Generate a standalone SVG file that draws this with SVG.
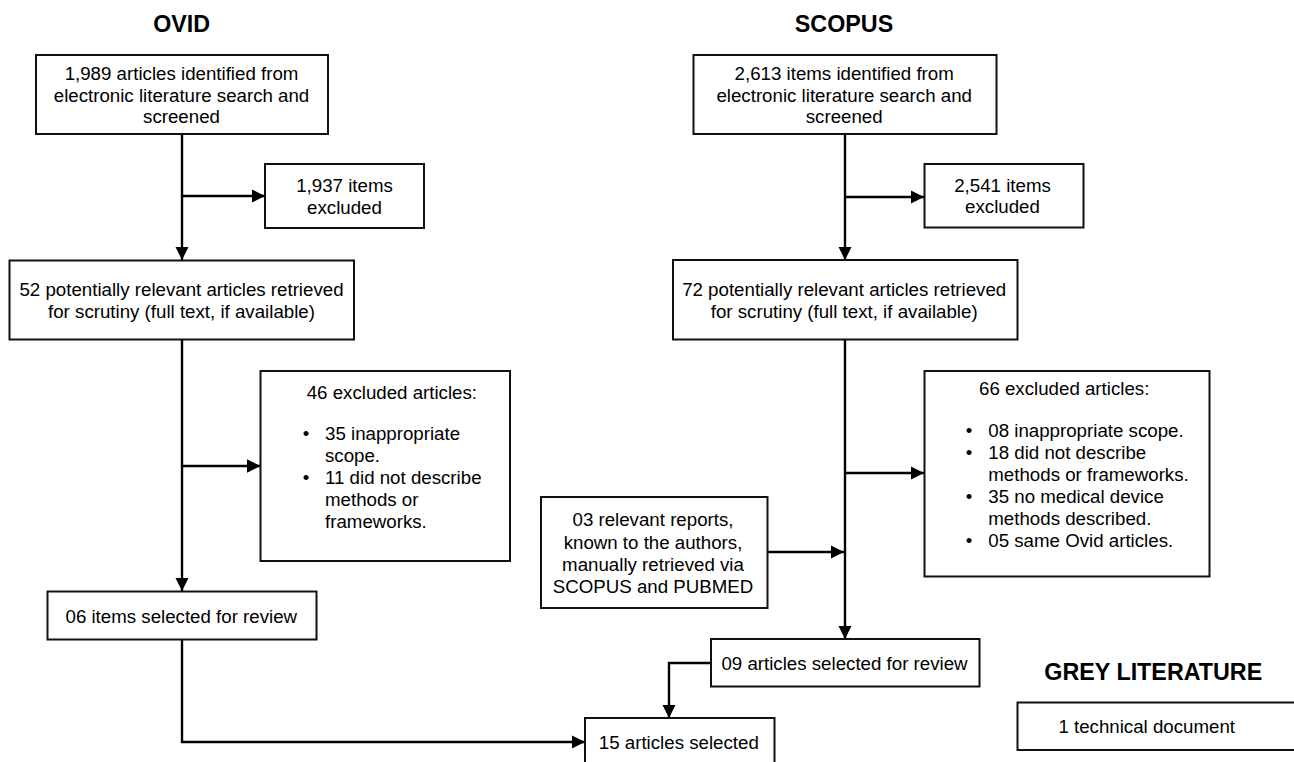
<svg xmlns="http://www.w3.org/2000/svg" width="1294" height="762" viewBox="0 0 1294 762">
<style>
  .box{fill:#fff;stroke:#111;stroke-width:2}
  .t{font-family:"Liberation Sans",Arial,sans-serif;font-size:18.7px;fill:#000}
  .c{text-anchor:middle}
  .h{font-family:"Liberation Sans",Arial,sans-serif;font-size:23.3px;font-weight:bold;fill:#000;text-anchor:middle}
  .ln{fill:none;stroke:#000;stroke-width:2.4}
  .ar{marker-end:url(#arr)}
</style>
<defs>
  <marker id="arr" viewBox="0 0 13.5 13.5" refX="13.5" refY="6.75" markerWidth="13.5" markerHeight="13.5" markerUnits="userSpaceOnUse" orient="auto">
    <path d="M0,0 L13.5,6.75 L0,13.5 z" fill="#000"/>
  </marker>
</defs>
<rect width="1294" height="762" fill="#fff"/>

<g id="titles">
  <text class="h" x="181.7" y="32.3">OVID</text>
  <text class="h" x="844" y="32.3">SCOPUS</text>
  <text class="h" x="1153.3" y="680">GREY LITERATURE</text>
</g>

<g id="connectors">
  <path class="ln ar" d="M182,134 V260"/>
  <path class="ln ar" d="M182,196 H265"/>
  <path class="ln ar" d="M182,340 V591"/>
  <path class="ln ar" d="M182,466 H260.5"/>
  <path class="ln ar" d="M182,639.5 V742 H585"/>
  <path class="ln ar" d="M845,134 V260"/>
  <path class="ln ar" d="M845,197 H924"/>
  <path class="ln ar" d="M845,339.5 V639"/>
  <path class="ln ar" d="M845,473 H924"/>
  <path class="ln ar" d="M767.5,552 H844"/>
  <path class="ln ar" d="M711,663 H669 V718"/>
</g>

<g id="ovid-identified">
  <rect class="box" x="36" y="55" width="292" height="79"/>
  <text class="t c" x="181.5" y="80">1,989 articles identified from</text>
  <text class="t c" x="181.5" y="101.7">electronic literature search and</text>
  <text class="t c" x="181.5" y="123.3">screened</text>
</g>
<g id="ovid-excluded">
  <rect class="box" x="265" y="164" width="159" height="64"/>
  <text class="t c" x="344.5" y="192">1,937 items</text>
  <text class="t c" x="344.5" y="213.5">excluded</text>
</g>
<g id="ovid-retrieved">
  <rect class="box" x="9.5" y="260.5" width="344.5" height="79"/>
  <text class="t c" x="181.5" y="296">52 potentially relevant articles retrieved</text>
  <text class="t c" x="181.5" y="318">for scrutiny (full text, if available)</text>
</g>
<g id="ovid-excluded-articles">
  <rect class="box" x="260.5" y="371" width="249.5" height="190"/>
  <text class="t" x="306.7" y="399">46 excluded articles:</text>
  <text class="t" x="302.7" y="440">•</text>
  <text class="t" x="325" y="440">35 inappropriate</text>
  <text class="t" x="325" y="462">scope.</text>
  <text class="t" x="302.7" y="484">•</text>
  <text class="t" x="325" y="484">11 did not describe</text>
  <text class="t" x="325" y="506">methods or</text>
  <text class="t" x="325" y="528">frameworks.</text>
</g>
<g id="ovid-selected">
  <rect class="box" x="47.5" y="591.5" width="269" height="48"/>
  <text class="t c" x="181.3" y="622.7">06 items selected for review</text>
</g>

<g id="scopus-identified">
  <rect class="box" x="693.5" y="55" width="303" height="79"/>
  <text class="t c" x="844.2" y="80">2,613 items identified from</text>
  <text class="t c" x="844.2" y="101.7">electronic literature search and</text>
  <text class="t c" x="844.2" y="123.3">screened</text>
</g>
<g id="scopus-excluded">
  <rect class="box" x="924.5" y="164" width="159" height="63.5"/>
  <text class="t c" x="1002.5" y="192.3">2,541 items</text>
  <text class="t c" x="1002.5" y="213.3">excluded</text>
</g>
<g id="scopus-retrieved">
  <rect class="box" x="673" y="260" width="344.5" height="79.5"/>
  <text class="t c" x="844.2" y="296">72 potentially relevant articles retrieved</text>
  <text class="t c" x="844.2" y="318.3">for scrutiny (full text, if available)</text>
</g>
<g id="scopus-excluded-articles">
  <rect class="box" x="924.5" y="371" width="285" height="205.5"/>
  <text class="t" x="979" y="395">66 excluded articles:</text>
  <text class="t" x="965.7" y="437">•</text>
  <text class="t" x="988.3" y="437">08 inappropriate scope.</text>
  <text class="t" x="965.7" y="459">•</text>
  <text class="t" x="988.3" y="459">18 did not describe</text>
  <text class="t" x="988.3" y="481">methods or frameworks.</text>
  <text class="t" x="965.7" y="503">•</text>
  <text class="t" x="988.3" y="503">35 no medical device</text>
  <text class="t" x="988.3" y="525">methods described.</text>
  <text class="t" x="965.7" y="547">•</text>
  <text class="t" x="988.3" y="547">05 same Ovid articles.</text>
</g>
<g id="manual-reports">
  <rect class="box" x="541" y="497" width="226.5" height="111"/>
  <text class="t c" x="653" y="526.3">03 relevant reports,</text>
  <text class="t c" x="653" y="549">known to the authors,</text>
  <text class="t c" x="653" y="571">manually retrieved via</text>
  <text class="t c" x="653" y="593.3">SCOPUS and PUBMED</text>
</g>
<g id="scopus-selected">
  <rect class="box" x="711" y="639" width="268.5" height="47.5"/>
  <text class="t c" x="844.5" y="670">09 articles selected for review</text>
</g>
<g id="final-selected">
  <rect class="box" x="585" y="718" width="189.5" height="60"/>
  <text class="t c" x="678.8" y="749.3">15 articles selected</text>
</g>
<g id="grey-document">
  <rect class="box" x="1017.5" y="702.5" width="290" height="47.5"/>
  <text class="t c" x="1146.7" y="733.3">1 technical document</text>
</g>
</svg>
